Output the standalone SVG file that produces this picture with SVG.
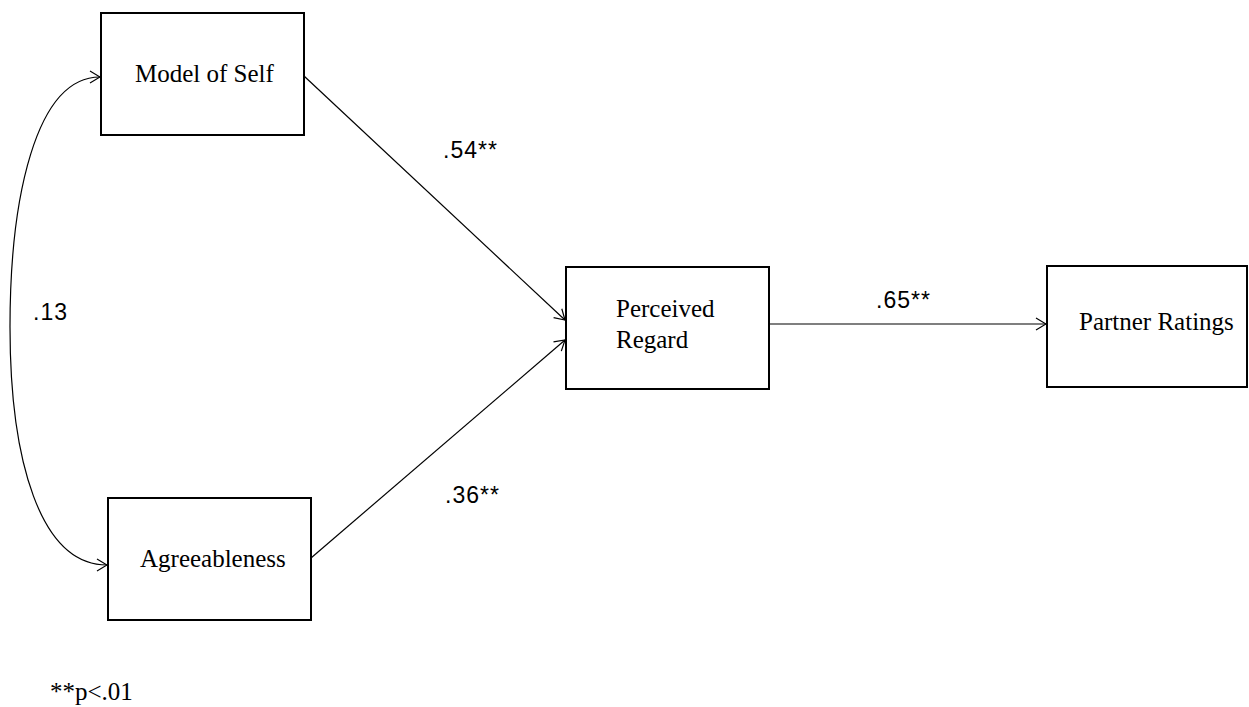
<svg xmlns="http://www.w3.org/2000/svg" width="1249" height="707" viewBox="0 0 1249 707">
<style>
.box{fill:#fff;stroke:#000;stroke-width:2}
.lbl{font-family:"Liberation Serif","Times New Roman",serif;font-size:25px;fill:#000}
.num{font-family:"Liberation Sans",Arial,sans-serif;font-size:23px;fill:#000;letter-spacing:1px}
.con{fill:none;stroke:#000;stroke-width:1.2}
</style>
<defs>
<marker id="arr" markerWidth="12" markerHeight="14" refX="11" refY="7" orient="auto-start-reverse" markerUnits="userSpaceOnUse">
<path d="M1,1 L11,7 L1,13" fill="none" stroke="#000" stroke-width="1.2"/>
</marker>
</defs>
<rect width="1249" height="707" fill="#fff"/>
<g id="connectors">
<path class="con" d="M100,77 C35,77 10,200 10,327 C10,460 40,565 107,565" marker-start="url(#arr)" marker-end="url(#arr)"/>
<line class="con" x1="304" y1="76" x2="565" y2="320" marker-end="url(#arr)"/>
<line class="con" x1="311" y1="558" x2="565" y2="340" marker-end="url(#arr)"/>
<line class="con" x1="768" y1="324" x2="1046" y2="324" marker-end="url(#arr)"/>
</g>
<g id="model-of-self">
<rect class="box" x="101" y="13" width="203" height="122"/>
<text class="lbl" x="135" y="82">Model of Self</text>
</g>
<g id="agreeableness">
<rect class="box" x="108" y="498" width="203" height="122"/>
<text class="lbl" x="140" y="567">Agreeableness</text>
</g>
<g id="perceived-regard">
<rect class="box" x="566" y="267" width="203" height="122"/>
<text class="lbl" x="616" y="317">Perceived</text>
<text class="lbl" x="616" y="348">Regard</text>
</g>
<g id="partner-ratings">
<rect class="box" x="1047" y="266" width="200" height="121"/>
<text class="lbl" x="1079" y="330">Partner Ratings</text>
</g>
<g id="labels">
<text class="num" x="443" y="158">.54**</text>
<text class="num" x="445" y="503">.36**</text>
<text class="num" x="876" y="308">.65**</text>
<text class="num" x="33" y="320">.13</text>
<text class="lbl" x="50" y="700">**p&lt;.01</text>
</g>
</svg>
